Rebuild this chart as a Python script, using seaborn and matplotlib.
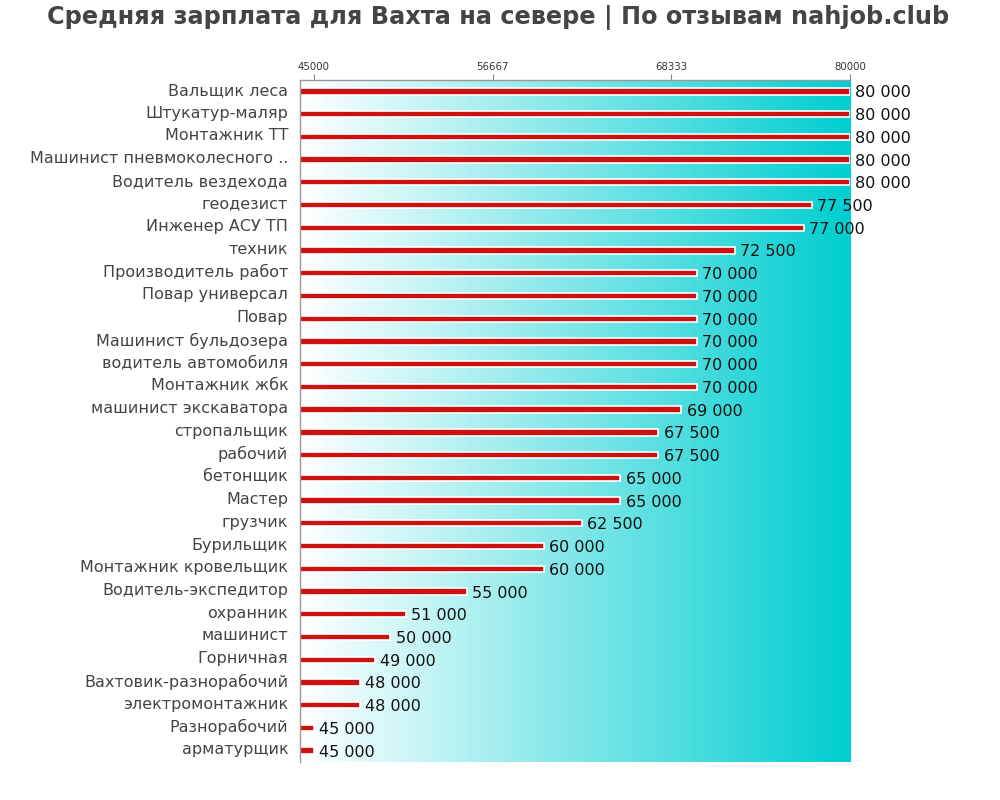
import numpy as np
import pandas as pd
import matplotlib
matplotlib.use("Agg")
import matplotlib.pyplot as plt
import matplotlib.transforms as mtransforms
import seaborn as sns
from matplotlib.colors import LinearSegmentedColormap

professions = [
    "Вальщик леса", "Штукатур-маляр", "Монтажник ТТ", "Машинист пневмоколесного ..",
    "Водитель вездехода", "геодезист", "Инженер АСУ ТП", "техник",
    "Производитель работ", "Повар универсал", "Повар", "Машинист бульдозера",
    "водитель автомобиля", "Монтажник жбк", "машинист экскаватора", "стропальщик",
    "рабочий", "бетонщик", "Мастер", "грузчик", "Бурильщик", "Монтажник кровельщик",
    "Водитель-экспедитор", "охранник", "машинист", "Горничная",
    "Вахтовик-разнорабочий", "электромонтажник", "Разнорабочий", "арматурщик",
]
salaries = [
    80000, 80000, 80000, 80000, 80000, 77500, 77000, 72500,
    70000, 70000, 70000, 70000, 70000, 70000, 69000, 67500,
    67500, 65000, 65000, 62500, 60000, 60000, 55000, 51000,
    50000, 49000, 48000, 48000, 45000, 45000,
]
tick_values = [45000, 56667, 68333, 80000]
title = "Средняя зарплата для Вахта на севере | По отзывам nahjob.club"

df = pd.DataFrame({"prof": professions, "salary": salaries})

sns.set_style("white")
plt.rcParams["font.family"] = ["DejaVu Sans"]

fig = plt.figure(figsize=(10, 8), dpi=100)
ax = fig.add_axes([0.30, 0.0475, 0.55, 0.8525])

xmin, xmax = 44100, 80000
n = len(professions)

cmap = LinearSegmentedColormap.from_list("g", ["#ffffff", "#00ced1"])
grad = np.linspace(0, 1, 256).reshape(1, -1)
ax.imshow(grad, aspect="auto", cmap=cmap, extent=[xmin, xmax, n - 0.5, -0.5],
          zorder=0, interpolation="bicubic")

sns.barplot(data=df, x="salary", y="prof", orient="h", color="#cc1111",
            width=0.28, edgecolor="white", linewidth=1.2, saturation=1, ax=ax, zorder=2)

val_tr = ax.transData + mtransforms.ScaledTranslation(0, -1.5 / 100, fig.dpi_scale_trans)
for i, v in enumerate(salaries):
    ax.text(v + 350, i, f"{v:,}".replace(",", " "), va="center", ha="left",
            fontsize=11.5, color="#111111", clip_on=False, transform=val_tr)

ax.set_xlim(xmin, xmax)
ax.set_ylim(n - 0.5, -0.5)
ax.xaxis.tick_top()
ax.set_xticks(tick_values)
ax.set_xticklabels([str(t) for t in tick_values], fontsize=7.3, color="#333333")
ax.tick_params(axis="x", length=4, width=0.8, color="#888888", pad=2)
ax.tick_params(axis="y", length=0, pad=8.5)
ax.set_yticks(range(n))
ax.set_yticklabels(professions, fontsize=11.5, color="#444444")
up = mtransforms.ScaledTranslation(0, 2.5 / 100, fig.dpi_scale_trans)
for lab in ax.get_yticklabels():
    lab.set_transform(lab.get_transform() + up)
ax.set_xlabel("")
ax.set_ylabel("")
for s in ["right", "bottom"]:
    ax.spines[s].set_visible(False)
for s in ["left", "top"]:
    ax.spines[s].set_color("#999999")
    ax.spines[s].set_linewidth(1)

fig.text(0.498, 0.978, title, ha="center", va="center", fontsize=17.3,
         fontweight="bold", color="#444444")

fig.savefig("out.png", dpi=100)
